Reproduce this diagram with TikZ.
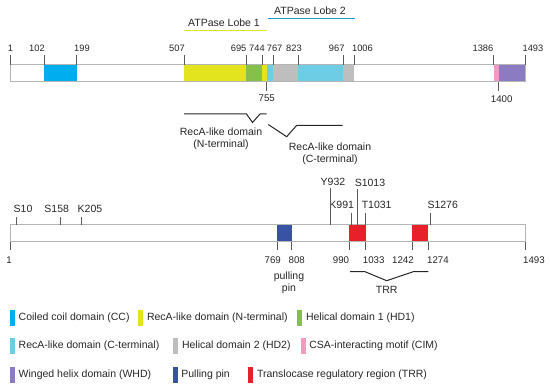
\documentclass[tikz,border=0pt]{standalone}
\usepackage{fontspec}
\setmainfont{Liberation Sans}
\definecolor{ccC}{HTML}{00AEEF}
\definecolor{recN}{HTML}{E4E41E}
\definecolor{hdone}{HTML}{86BF4A}
\definecolor{recC}{HTML}{6CCDE5}
\definecolor{hdtwo}{HTML}{BEBEBE}
\definecolor{cimC}{HTML}{F29AC0}
\definecolor{whdC}{HTML}{8B7BC0}
\definecolor{pinC}{HTML}{3953A4}
\definecolor{trrC}{HTML}{E8202A}
\definecolor{tickC}{HTML}{5A5A5A}
\definecolor{barC}{HTML}{B5B5B5}
\definecolor{lobeB}{HTML}{1E9AD6}
\begin{document}
\begin{tikzpicture}[x=1pt,y=-1pt,font=\fontsize{10.5}{12}\selectfont,
  txt/.style={inner sep=0pt,text=black!85},
  num/.style={txt,font=\fontsize{9.7}{11}\selectfont},
  topnum/.style={txt,font=\fontsize{9.3}{11}\selectfont},
  tk/.style={draw=tickC,line width=0.8pt},
  barbox/.style={draw=barC,line width=1pt},
  brk/.style={draw=black!85,line width=1pt},
  swatch/.style={inner sep=0pt,minimum width=5pt,minimum height=16pt}]
\useasboundingbox (0,0) rectangle (550,390);

% ---------- top bar ----------
\fill[white] (10,65) rectangle (525,82);
\fill[ccC] (44.3,65) rectangle (76.5,82);
\fill[recN] (184,65) rectangle (246,82);
\fill[hdone] (246,65) rectangle (262.3,82);
\fill[recN] (262.3,65) rectangle (266.8,82);
\fill[recC] (266.8,65) rectangle (273.3,82);
\fill[hdtwo] (273.3,65) rectangle (298.3,82);
\fill[recC] (298.3,65) rectangle (343,82);
\fill[hdtwo] (343,65) rectangle (354,82);
\fill[cimC] (493.6,65) rectangle (498.5,82);
\fill[whdC] (498.5,65) rectangle (525,82);
\draw[barbox] (10,65) rectangle (525,82);

\foreach \tx/\lx/\t [count=\i] in {10/10.5/1, 44.3/37/102, 76.5/82/199, 184/177/507, 246/238.6/695, 262/257/744, 273.3/274.6/767, 298.3/294/823, 343/336.7/967, 354/362.5/1006, 493.6/483/1386, 525/533/1493}{
  \node[topnum] (tl\i) at (\lx,48) {\t};
  \draw[tk] (\tx,55) -- (\tx,65);
}
\node[num] (t755) at (266.7,98.5) {755};
\draw[tk] (266.7,82) -- (266.7,91);
\node[num] (t1400) at (501.7,99) {1400};
\draw[tk] (498.5,82) -- (498.5,91);

% ATPase lobes
\node[txt] (lobe1) at (224,23) {ATPase Lobe 1};
\draw[recN,line width=1.6pt] (184,30.7) -- (267,30.7);
\node[txt] (lobe2) at (310,11) {ATPase Lobe 2};
\draw[lobeB,line width=1.4pt] (268,18.3) -- (355,18.3);

% RecA brackets
\draw[brk] (184,114) -- (246.5,114) -- (252.5,122.5) -- (260,114) -- (266.5,114);
\node[txt,align=center] (recAN) at (221,139) {RecA-like domain\\(N-terminal)};
\draw[brk] (268.3,124.5) -- (286.7,136.7) -- (296.7,125.3) -- (342.7,125.3);
\node[txt,align=center] (recAC) at (330,154) {RecA-like domain\\(C-terminal)};

% ---------- lower bar ----------
\fill[white] (10,225) rectangle (525,242);
\fill[pinC] (277.3,225) rectangle (291.7,242);
\fill[trrC] (349.3,225) rectangle (365.7,242);
\fill[trrC] (412.3,225) rectangle (428.3,242);
\draw[barbox] (10,225) rectangle (525,242);

\foreach \tx/\lx/\t [count=\i] in {16.7/23/S10, 60/56.7/S158, 81/90/K205}{
  \node[txt] (sa\i) at (\lx,209) {\t};
  \draw[tk] (\tx,217.5) -- (\tx,225);
}
\foreach \tx/\lx/\t [count=\i] in {351/341.7/K991, 365/376.7/T1031, 430/442.7/S1276}{
  \node[txt] (sb\i) at (\lx,205) {\t};
  \draw[tk] (\tx,213) -- (\tx,225);
}
\node[txt] (y932) at (333,182) {Y932};
\draw[tk] (330,188) -- (330,225);
\node[txt] (s1013) at (370,182.5) {S1013};
\draw[tk] (357.3,189) -- (357.3,225);

\foreach \tx/\lx/\t [count=\i] in {10/9/1, 277.3/272.7/769, 291.7/296.7/808, 349.3/341/990, 365.7/373.7/1033, 412.3/403/1242, 428.3/438/1274, 525/534/1493}{
  \node[num] (bl\i) at (\lx,260) {\t};
  \draw[tk] (\tx,242) -- (\tx,250);
}
\node[txt,align=center] (pull) at (289,282.5) {pulling\\pin};
\draw[brk] (350,271.7) -- (365,271.7) -- (386.7,280.7) -- (413.3,271.7) -- (428.3,271.7);
\node[txt] (trr) at (386.7,290) {TRR};

% ---------- legend ----------
\foreach \c/\sx/\y/\t [count=\i] in {
  ccC/12.5/317.7/Coiled coil domain (CC),
  recN/140.8/317.7/RecA-like domain (N-terminal),
  hdone/299.8/317.7/Helical domain 1 (HD1),
  recC/12.5/346/RecA-like domain (C-terminal),
  hdtwo/175.8/346/Helical domain 2 (HD2),
  cimC/303.2/346/CSA-interacting motif (CIM),
  whdC/12.5/375/Winged helix domain (WHD),
  pinC/175.2/375/Pulling pin,
  trrC/250.8/375/Translocase regulatory region (TRR)}{
  \node[swatch,fill=\c] (sw\i) at (\sx,\y) {};
  \node[txt,anchor=west] (lg\i) at ([xshift=3.3pt]sw\i.east) {\t};
}
\end{tikzpicture}
\end{document}
